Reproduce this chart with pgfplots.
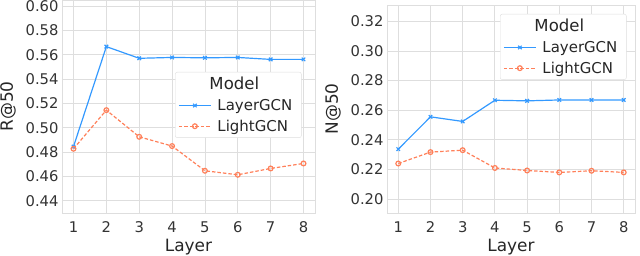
\documentclass[border=0pt]{standalone}
\usepackage{fontspec}
\setmainfont{DejaVu Sans}
\usepackage{pgfplots}
\pgfplotsset{compat=1.18}
\definecolor{cblue}{RGB}{51,153,255}
\definecolor{corange}{RGB}{255,128,90}
\definecolor{gridc}{RGB}{222,222,222}
\pgfplotsset{
  myax/.style={
    scale only axis,
    xmin=0.65, xmax=8.35,
    xtick={1,...,8},
    axis line style={gridc, line width=0.8pt},
    grid=major,
    major grid style={gridc, line width=0.8pt},
    tick style={draw=none},
    /pgf/number format/assume math mode=true,
    tick label style={font=\fontsize{14.8}{16}\selectfont, text=black!80},
    label style={font=\fontsize{17}{19}\selectfont, text=black!85},
    xlabel={Layer},
    xlabel style={yshift=0bp},
    ylabel style={yshift=3bp},
    xticklabel style={yshift=-5bp},
    legend cell align=left,
    legend style={draw=gridc, rounded corners=2pt, font=\fontsize{15}{17}\selectfont, text=black!85,
      row sep=4bp, inner ysep=3bp, inner xsep=3bp,
      nodes={inner xsep=6bp}},
    legend image code/.code={\draw[mark repeat=2,mark phase=2] plot coordinates {(0bp,0bp) (16bp,0bp) (32bp,0bp)};},
  },
  blueline/.style={color=cblue, line width=1.2pt, mark=x, mark size=2.5pt, mark options={solid}},
  orangeline/.style={color=corange, line width=1.2pt, dashed, dash pattern=on 3.5pt off 2pt, mark=o, mark size=2.4pt, mark options={solid}},
}
\begin{document}
\begin{tikzpicture}
\useasboundingbox (0,0) rectangle (640bp,256bp);
\begin{axis}[myax,
  at={(62bp,43bp)}, anchor=south west,
  width=253bp, height=213bp,
  ymin=0.43, ymax=0.605,
  ytick={0.44,0.46,...,0.60},
  yticklabel style={/pgf/number format/.cd, fixed, fixed zerofill, precision=2},
  ylabel={R@50},
  legend style={at={(0.447,0.662)}, anchor=north west},
]
\addlegendimage{empty legend}
\addlegendentry{\hspace*{-8bp}\fontsize{16.6}{18}\selectfont Model\rule[-7bp]{0pt}{0pt}}
\addplot[blueline] coordinates {(1,0.4846) (2,0.5667) (3,0.5571) (4,0.5578) (5,0.5575) (6,0.5578) (7,0.5562) (8,0.5562)};
\addlegendentry{LayerGCN}
\addplot[orangeline] coordinates {(1,0.4828) (2,0.5145) (3,0.4926) (4,0.4850) (5,0.4647) (6,0.4614) (7,0.4666) (8,0.4707)};
\addlegendentry{LightGCN\rule[-8bp]{0pt}{0pt}}
\end{axis}
\begin{axis}[myax,
  at={(387bp,43bp)}, anchor=south west,
  width=248bp, height=208bp,
  ymin=0.1906, ymax=0.331,
  ytick={0.20,0.22,...,0.32},
  yticklabel style={/pgf/number format/.cd, fixed, fixed zerofill, precision=2},
  ylabel={N@50},
  legend style={at={(0.456,0.957)}, anchor=north west},
]
\addlegendimage{empty legend}
\addlegendentry{\hspace*{-8bp}\fontsize{16.6}{18}\selectfont Model\rule[-7bp]{0pt}{0pt}}
\addplot[blueline] coordinates {(1,0.2337) (2,0.2555) (3,0.2524) (4,0.2667) (5,0.2663) (6,0.2669) (7,0.2669) (8,0.2669)};
\addlegendentry{LayerGCN}
\addplot[orangeline] coordinates {(1,0.2240) (2,0.2317) (3,0.2330) (4,0.2210) (5,0.2193) (6,0.2180) (7,0.2191) (8,0.2180)};
\addlegendentry{LightGCN\rule[-8bp]{0pt}{0pt}}
\end{axis}
\end{tikzpicture}
\end{document}
